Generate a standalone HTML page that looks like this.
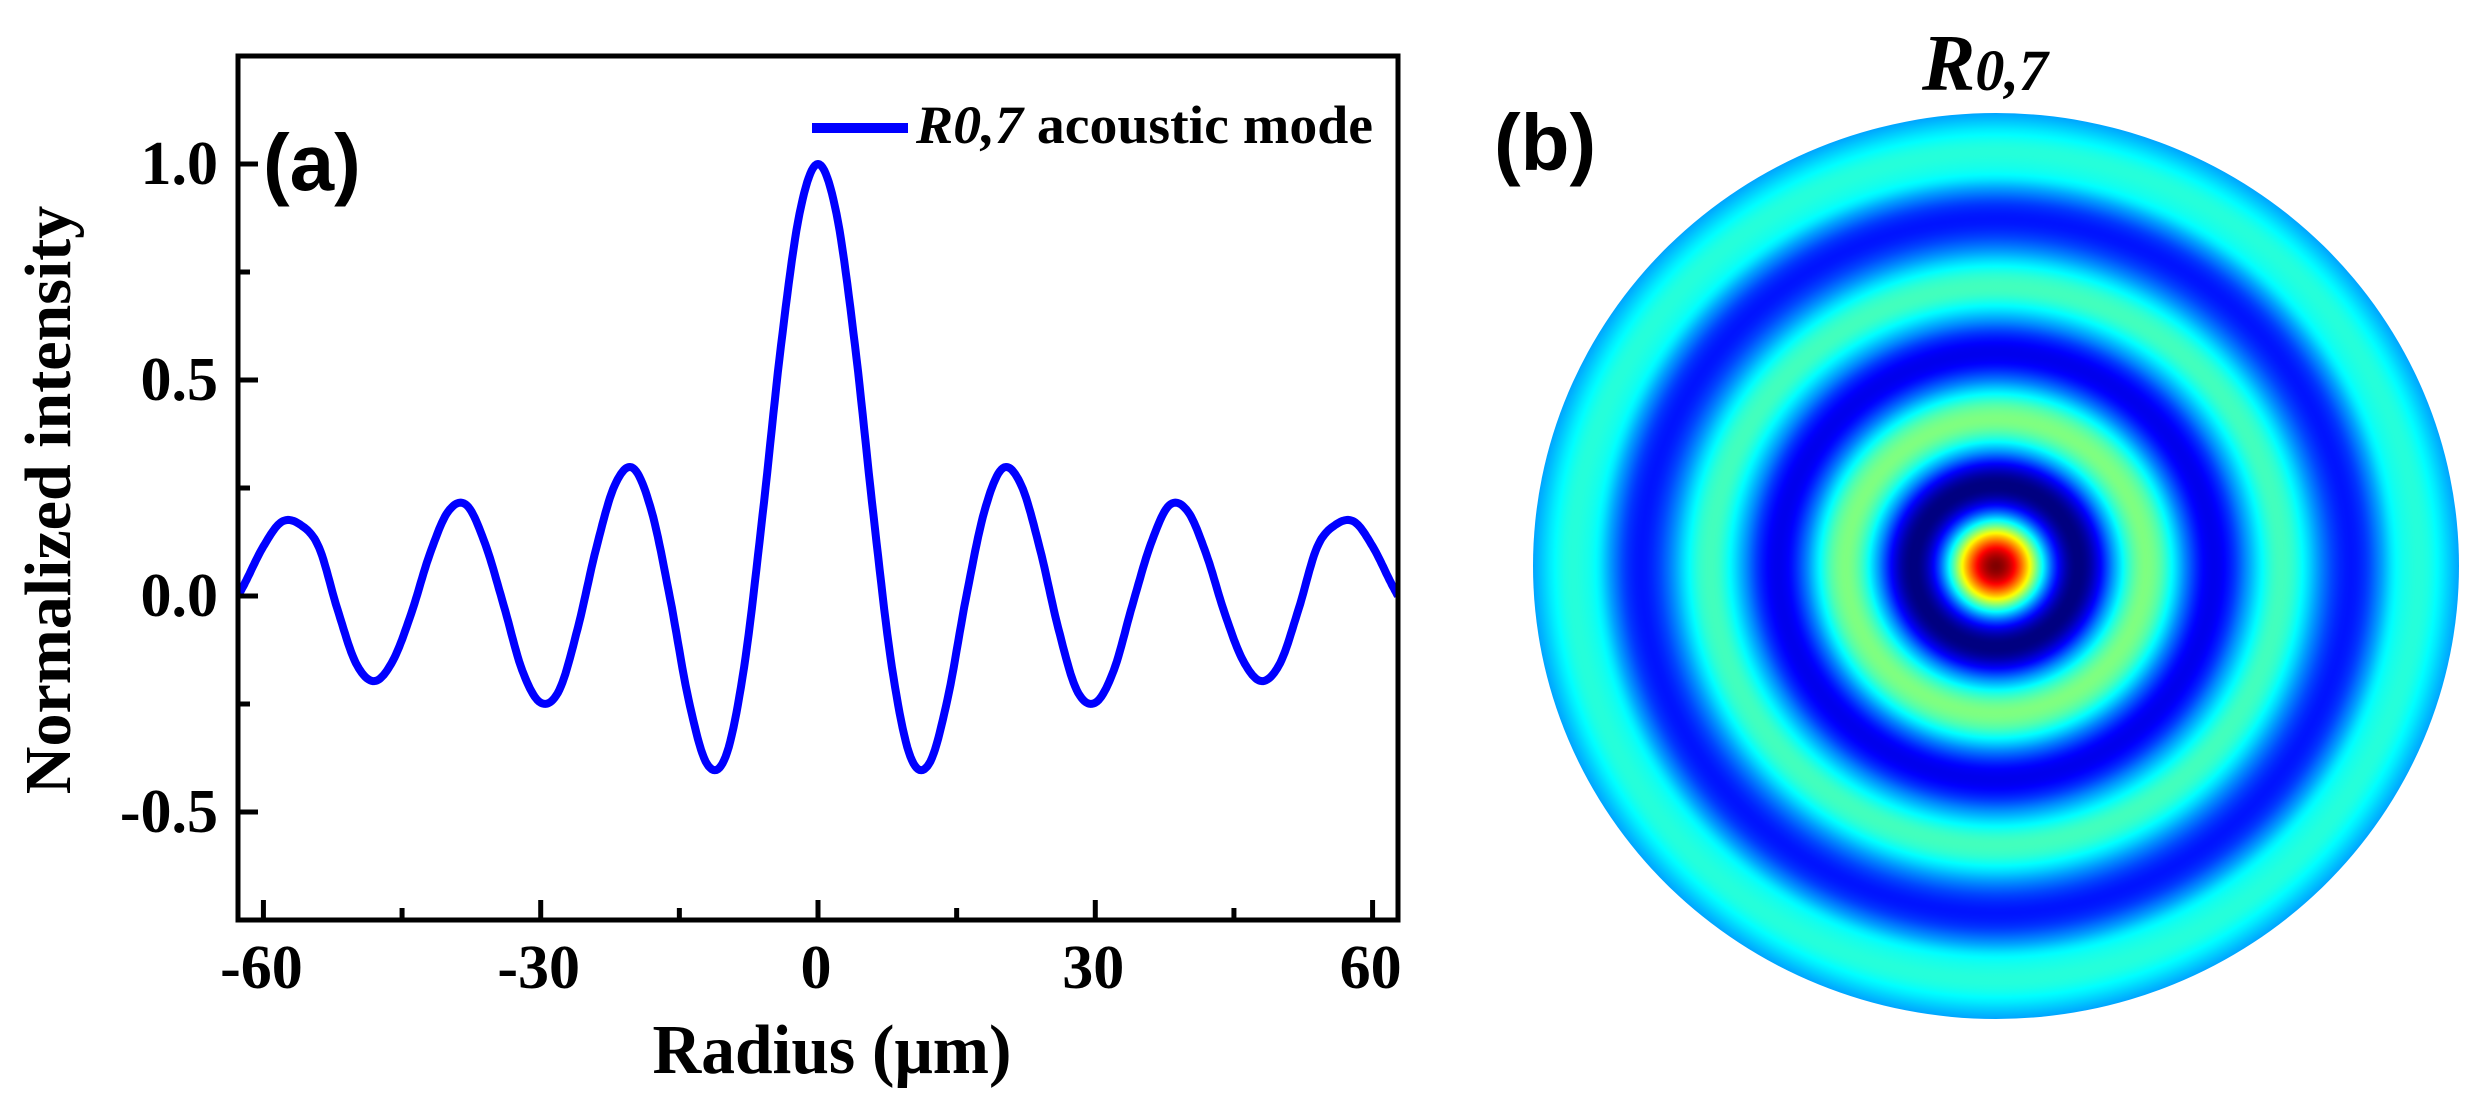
<!DOCTYPE html>
<html><head><meta charset="utf-8"><style>
html,body{margin:0;padding:0;background:#fff;}
svg{display:block;}
</style></head><body>
<svg id="fig" width="2485" height="1113" viewBox="0 0 2485 1113" xmlns="http://www.w3.org/2000/svg">
<defs>
  <radialGradient id="modeGrad" cx="0.5" cy="0.5" r="0.5"></radialGradient>
</defs>
<g id="panelA"></g>
<g id="panelB"></g>
</svg>
<script>
// ---- data ----
const radiusUm = [-62.75,-62,-60,-58,-56,-54,-52,-50,-48,-46,-44,-42,-40,-38,-36,-34,-32,-30,-28,-26,-24,-22,-20,-18,-16,-14,-12,-10,-8,-6,-4,-2,0,2,4,6,8,10,12,14,16,18,20,22,24,26,28,30,32,34,36,38,40,42,44,46,48,50,52,54,56,58,60,62,62.75];
const intensity = [0.0,0.03,0.115,0.172,0.165,0.113,-0.03,-0.155,-0.197,-0.15,-0.04,0.097,0.196,0.21,0.12,-0.022,-0.172,-0.247,-0.218,-0.075,0.11,0.256,0.296,0.196,-0.006,-0.24,-0.389,-0.372,-0.165,0.187,0.58,0.885,1.0,0.885,0.58,0.187,-0.165,-0.372,-0.389,-0.24,-0.006,0.196,0.296,0.256,0.11,-0.075,-0.218,-0.247,-0.172,-0.022,0.12,0.21,0.196,0.097,-0.04,-0.15,-0.197,-0.155,-0.03,0.113,0.165,0.172,0.115,0.03,0.0];
const xTicks = [-60,-30,0,30,60];
const xTickLabels = ["-60","-30","0","30","60"];
const xMinorTicks = [-45,-15,15,45];
const yTicks = [-0.5,0,0.5,1.0];
const yTickLabels = ["-0.5","0.0","0.5","1.0"];
const yMinorTicks = [-0.25,0.25,0.75];

const NS = "http://www.w3.org/2000/svg";
function mk(tag, attrs, parent){ const e=document.createElementNS(NS,tag); for(const k in attrs) e.setAttribute(k,attrs[k]); parent.appendChild(e); return e; }

const L=238, R=1398, T=56, B=920;
const xMin=-62.75, xMax=62.75, yMin=-0.75, yMax=1.25;
const sx = v => L + (v-xMin)/(xMax-xMin)*(R-L);
const sy = v => B - (v-yMin)/(yMax-yMin)*(B-T);

const A = document.getElementById('panelA');

function smooth(xs, ys, n){
  const out=[];
  for(let i=0;i<xs.length-1;i++){
    const x0=xs[Math.max(i-1,0)], x1=xs[i], x2=xs[i+1], x3=xs[Math.min(i+2,xs.length-1)];
    const y0=ys[Math.max(i-1,0)], y1=ys[i], y2=ys[i+1], y3=ys[Math.min(i+2,ys.length-1)];
    const h=x2-x1;
    const m1=(y2-y0)/(x2-x0)*h, m2=(y3-y1)/(x3-x1)*h;
    for(let j=0;j<n;j++){
      const t=j/n, t2=t*t, t3=t2*t;
      const y=(2*t3-3*t2+1)*y1+(t3-2*t2+t)*m1+(-2*t3+3*t2)*y2+(t3-t2)*m2;
      out.push([x1+t*h,y]);
    }
  }
  out.push([xs[xs.length-1], ys[ys.length-1]]);
  return out;
}
const pts = smooth(radiusUm, intensity, 12);

const clip = mk('clipPath',{id:'plotClip'},document.querySelector('defs'));
mk('rect',{x:L,y:T,width:R-L,height:B-T},clip);
const curve = mk('path',{d:pts.map((p,i)=>(i?'L':'M')+sx(p[0]).toFixed(1)+','+sy(p[1]).toFixed(1)).join(''),fill:'none',stroke:'#0000ff','stroke-width':8,'stroke-linejoin':'round','clip-path':'url(#plotClip)'},A);



const frame = mk('rect',{x:L,y:T,width:R-L,height:B-T,fill:'none',stroke:'#000','stroke-width':5},A);



xTicks.forEach((v,i)=>{
  const t=mk('line',{x1:sx(v),x2:sx(v),y1:B,y2:B-20,stroke:'#000','stroke-width':5},A);
  
  
  const lb=mk('text',{x:sx(v)-2,y:988,'text-anchor':'middle','font-family':'Liberation Serif, serif','font-weight':'bold','font-size':62},A);
  lb.textContent=xTickLabels[i];
  
  
});
xMinorTicks.forEach(v=>{
  const t=mk('line',{x1:sx(v),x2:sx(v),y1:B,y2:B-12,stroke:'#000','stroke-width':5},A);
  
  
});
yTicks.forEach((v,i)=>{
  const t=mk('line',{x1:L,x2:L+20,y1:sy(v),y2:sy(v),stroke:'#000','stroke-width':5},A);
  
  
  const lb=mk('text',{x:218,y:sy(v)+20,'text-anchor':'end','font-family':'Liberation Serif, serif','font-weight':'bold','font-size':62},A);
  lb.textContent=yTickLabels[i];
  
  
});
yMinorTicks.forEach(v=>{
  const t=mk('line',{x1:L,x2:L+12,y1:sy(v),y2:sy(v),stroke:'#000','stroke-width':5},A);
  
  
});

const xt=mk('text',{x:832,y:1073,'text-anchor':'middle','font-family':'Liberation Serif, serif','font-weight':'bold','font-size':70,textLength:359,lengthAdjust:'spacingAndGlyphs'},A);
xt.textContent='Radius (μm)';


const yt=mk('text',{x:0,y:0,transform:'translate(70,500) rotate(-90)','text-anchor':'middle','font-family':'Liberation Serif, serif','font-weight':'bold','font-size':66},A);
yt.textContent='Normalized intensity';



const pa=mk('text',{x:263,y:190,'font-family':'Liberation Sans, sans-serif','font-weight':'bold','font-size':80},A);
pa.textContent='(a)';



const lg=mk('g',{},A);


const ll=mk('line',{x1:812,x2:908,y1:128,y2:128,stroke:'#0000ff','stroke-width':10},lg);


const lt=mk('text',{x:916,y:143,'font-family':'Liberation Serif, serif','font-weight':'bold','font-size':54,textLength:457,lengthAdjust:'spacingAndGlyphs'},lg);
lt.innerHTML='<tspan font-style="italic">R0,7</tspan> acoustic mode';



function jet(x){
  const c=v=>Math.max(0,Math.min(1,v));
  return [c(1.5-Math.abs(4*x-3)),c(1.5-Math.abs(4*x-2)),c(1.5-Math.abs(4*x-1))].map(v=>Math.round(v*255));
}
const vMin=-0.4, vMax=1.0;
const grad=document.getElementById('modeGrad');
pts.filter(p=>p[0]>=0).forEach(p=>{
  const f=Math.max(0,Math.min(1,(p[1]-vMin)/(vMax-vMin)));
  const c=jet(f);
  mk('stop',{offset:(p[0]/xMax).toFixed(4),'stop-color':'rgb('+c.join(',')+')'},grad);
});
const B2=document.getElementById('panelB');
const disk=mk('ellipse',{cx:1996,cy:566,rx:463,ry:453,fill:'url(#modeGrad)'},B2);


const pb=mk('text',{x:1494,y:170,'font-family':'Liberation Sans, sans-serif','font-weight':'bold','font-size':80},B2);
pb.textContent='(b)';


const mt=mk('text',{x:1922,y:90,'font-family':'Liberation Serif, serif','font-weight':'bold','font-style':'italic','font-size':80},B2);
mt.innerHTML='R<tspan font-size="58">0,7</tspan>';


</script>
</body></html>
